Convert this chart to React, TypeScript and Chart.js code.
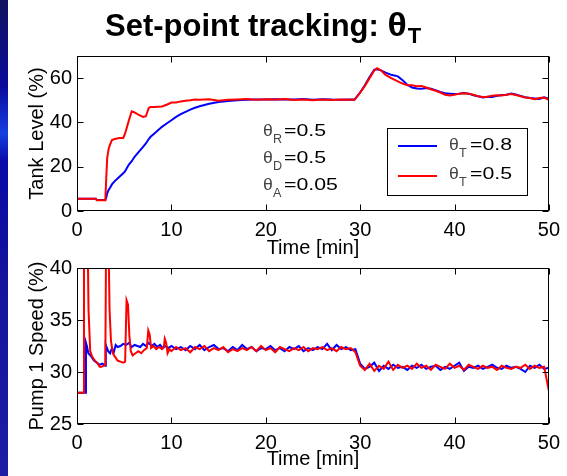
import React, { useEffect, useRef } from "react";
import { Chart, registerables } from "chart.js";

Chart.register(...registerables);

const FONT = "'Liberation Sans', Arial, Helvetica, sans-serif";

// ---------- data ----------
const tankTime = [0, 1, 2, 2.1, 3.0, 3.1, 3.2, 3.35, 3.5, 3.7, 4.0, 4.5, 4.9, 5.1, 5.3, 5.5, 5.8, 6.1, 6.5, 7.0, 7.3, 7.6, 7.8, 8.2, 9.0, 9.5, 10, 10.5, 11, 11.5, 12, 12.5, 13, 14, 15, 16, 17, 18, 19, 20, 21, 22, 23, 24, 25, 26, 27, 28, 29, 29.4, 30, 30.5, 31, 31.5, 31.8, 32.2, 32.7, 33.3, 34, 34.5, 35, 35.5, 36, 36.5, 37, 37.5, 38, 38.5, 39, 39.5, 40, 40.5, 41, 41.5, 42, 42.5, 43, 43.5, 44, 44.5, 45, 45.5, 46, 46.5, 47, 47.5, 48, 48.5, 49, 49.5, 50];

const tankLevelThetaT08 = [5.5, 5.5, 5.5, 5, 5, 6, 8, 9.5, 10.5, 12, 13.5, 15.5, 17, 18, 19.5, 21, 22.5, 24.5, 26.5, 29, 30.5, 32.5, 33.5, 35, 38, 39.5, 41, 42.5, 43.7, 44.8, 45.8, 46.6, 47.3, 48.4, 49.2, 49.7, 50, 50.2, 50.4, 50.3, 50.5, 50.4, 50.3, 50.6, 50.2, 50.5, 50.3, 50.2, 50.4, 50.3, 53.5, 56.8, 60.5, 63.8, 64, 63.5, 62.5, 61.5, 60.8, 59, 57, 55.8, 55.3, 55.2, 55.5, 55.2, 54.5, 53.8, 53.2, 53, 52.8, 53, 53.3, 53, 52.3, 51.8, 51.3, 51.6, 51.5, 52, 52.4, 52.5, 53, 52.6, 52, 51.4, 51, 50.8, 50.6, 51.3, 50.7];

const tankLevelThetaT05 = [5.5, 5.5, 5.5, 4.8, 4.8, 15, 24, 28, 30, 32, 32.5, 33, 33, 35, 38, 41, 45, 44.5, 43.5, 42.5, 42.8, 46.5, 47, 47, 47.2, 48, 49, 49, 49.5, 49.8, 50, 50.3, 50.2, 50.5, 49.8, 50.2, 50.4, 50.6, 50.2, 50.5, 50.3, 50.6, 50.1, 50.4, 50.0, 50.3, 50.1, 50.4, 50.2, 50.2, 53.5, 56.5, 60, 63.5, 64.5, 63.5, 61.5, 60, 58.5, 57.5, 56.8, 56.8, 56.3, 56.5, 55.8, 55, 54.3, 53.5, 52.5, 52.2, 52.5, 53, 53.2, 53, 52.5, 51.8, 51.5, 51.6, 52, 52.3, 52.2, 52.5, 52.8, 52.4, 51.8, 51.3, 51, 50.5, 51, 51.2, 50.2];

const pumpEarlyTimeT08 = [0, 0.9, 0.95, 1.05, 1.2, 1.5, 1.8, 2.1, 2.4, 2.7, 3.0, 3.05, 3.3, 3.5, 3.7, 3.9, 4.1, 4.3, 4.6, 4.9, 5.2, 5.5, 5.8, 6.1, 6.4, 6.7, 7.0, 7.3, 7.6, 7.9, 8.2, 8.5, 8.8, 9.1, 9.4, 9.7];
const pumpEarlySpeedT08 = [28, 28, 32.8, 32.5, 31.8, 31.5, 31.1, 30.9, 30.7, 30.8, 30.6, 32.6, 32.0, 31.8, 32.3, 31.9, 32.6, 32.4, 32.5, 32.7, 32.6, 32.8, 32.4, 32.6, 32.5, 32.4, 32.7, 32.5, 32.8, 32.5, 32.7, 32.4, 32.6, 32.3, 32.5, 32.3];

const pumpEarlyTimeT05 = [0, 0.68, 0.74, 1.1, 1.22, 1.4, 1.6, 1.8, 2.0, 2.2, 2.4, 2.6, 2.8, 3.0, 3.1, 3.3, 3.45, 3.6, 3.8, 4.0, 4.3, 4.6, 4.9, 5.1, 5.25, 5.4, 5.55, 5.7, 5.9, 6.2, 6.5, 6.8, 7.1, 7.4, 7.55, 7.7, 7.85, 8.1, 8.4, 8.7, 9.0, 9.2, 9.3, 9.45, 9.6, 9.8];
const pumpEarlySpeedT05 = [28, 28, 45, 45, 36, 32, 31.5, 31.2, 31, 30.8, 30.5, 30.5, 30.6, 30.7, 45, 45, 36, 33, 31.8, 31.5, 31.1, 31.0, 30.9, 31, 36.9, 36.5, 33.5, 32, 31.6, 31.8, 32.0, 31.8, 32.1, 32.3, 34, 33.6, 32.3, 32.5, 32.2, 32.4, 32.2, 32.4, 33.2, 32.8, 31.8, 32.2];

const pumpTailTime = [10, 10.5, 11, 11.5, 12, 12.5, 13, 13.5, 14, 14.5, 15, 15.5, 16, 16.5, 17, 17.5, 18, 18.5, 19, 19.5, 20, 20.5, 21, 21.5, 22, 22.5, 23, 23.5, 24, 24.5, 25, 25.5, 26, 26.5, 27, 27.5, 28, 28.5, 29, 29.5, 30, 30.5, 31, 31.5, 32, 32.5, 33, 33.5, 34, 34.5, 35, 35.5, 36, 36.5, 37, 37.5, 38, 38.5, 39, 39.5, 40, 40.5, 41, 41.5, 42, 42.5, 43, 43.5, 44, 44.5, 45, 45.5, 46, 46.5, 47, 47.5, 48, 48.5, 49, 49.5, 50];

const pumpTailSpeedT08 = [32.5, 32.2, 32.4, 32.1, 32.5, 32.2, 32.6, 32.1, 32.4, 32.6, 32.2, 32.3, 32.0, 32.4, 32.1, 32.6, 32.2, 32.4, 32.0, 32.3, 32.2, 32.5, 32.1, 32.3, 32.0, 32.4, 32.2, 32.5, 32.0, 32.3, 32.1, 32.4, 32.2, 32.7, 32.1, 32.6, 32.2, 32.4, 32.1, 32.2, 30.8, 30.3, 30.5, 30.9, 30.1, 30.6, 30.3, 30.7, 30.4, 30.5, 30.2, 30.6, 30.4, 30.7, 30.3, 30.5, 30.6, 30.2, 30.5, 30.3, 30.6, 30.9, 30.1, 30.5, 30.4, 30.6, 30.3, 30.5, 30.7, 30.4, 30.3, 30.6, 30.4, 30.5, 30.3, 30.0, 30.6, 30.4, 30.7, 30.3, 30.4];

const pumpTailSpeedT05 = [32.0, 32.4, 32.1, 32.3, 31.9, 32.4, 32.2, 32.5, 32.0, 32.3, 32.1, 32.4, 31.9, 32.2, 32.0, 32.3, 32.1, 32.4, 32.0, 32.5, 32.1, 32.3, 31.9, 32.4, 32.2, 32.0, 32.3, 32.1, 32.4, 32.0, 32.3, 32.2, 32.4, 32.1, 32.3, 32.0, 32.4, 32.2, 32.3, 31.9, 30.6, 30.2, 30.8, 30.1, 30.6, 30.3, 31.0, 30.2, 30.7, 30.4, 30.6, 30.3, 30.8, 30.4, 30.6, 30.2, 30.7, 30.5, 30.3, 30.8, 30.4, 30.6, 30.2, 30.7, 30.5, 30.3, 30.6, 30.4, 30.5, 30.2, 30.6, 30.4, 30.3, 30.5, 30.4, 30.7, 30.3, 30.6, 30.4, 30.5, 28.2];

const timeTicks = [0, 10, 20, 30, 40, 50];
const tankTicks = [0, 20, 40, 60];
const pumpTicks = [25, 30, 35, 40];

const seriesLabels = ["0.8", "0.5"];
const seriesColors = ["#0000ff", "#ff0000"];
const paramSubs = ["R", "D", "A"];
const paramValues = ["0.5", "0.5", "0.05"];

// ---------- helpers ----------
const pairs = (t: number[], v: number[]) => t.map((x, i) => ({ x, y: v[i] }));

function stretchText(ctx: CanvasRenderingContext2D, text: string, x: number, y: number, font: string, color: string, sx = 1) {
  ctx.save();
  ctx.font = font;
  ctx.fillStyle = color;
  ctx.textAlign = "left";
  ctx.textBaseline = "alphabetic";
  ctx.translate(x, y);
  ctx.scale(sx, 1);
  ctx.fillText(text, 0, 0);
  const w = ctx.measureText(text).width * sx;
  ctx.restore();
  return w;
}

function thetaLabel(ctx: CanvasRenderingContext2D, x: number, y: number, sub: string, rest: string) {
  stretchText(ctx, "θ", x, y, `16px ${FONT}`, "#444", 1.1);
  stretchText(ctx, sub, x + 10, y + 7, `12px ${FONT}`, "#444", 1.05);
  stretchText(ctx, rest, x + 21, y, `16px ${FONT}`, "#000", 1.33);
}

const inwardBox = {
  id: "inwardBox",
  afterDatasetsDraw(chart: any) {
    const { ctx, chartArea: a } = chart;
    const xs = chart.scales.x;
    const ys = chart.scales.y;
    const len = 6;
    ctx.save();
    ctx.strokeStyle = "#000";
    ctx.lineWidth = 1;
    const L = Math.round(a.left) + 0.5;
    const R = Math.round(a.right) - 0.5;
    const T = Math.round(a.top) + 0.5;
    const B = Math.round(a.bottom) - 0.5;
    ctx.strokeRect(L, T, R - L, B - T);
    ctx.beginPath();
    xs.ticks.forEach((t: any) => {
      const p = Math.round(xs.getPixelForValue(t.value)) + 0.5;
      ctx.moveTo(p, B); ctx.lineTo(p, B - len);
      ctx.moveTo(p, T); ctx.lineTo(p, T + len);
    });
    ys.ticks.forEach((t: any) => {
      const p = Math.round(ys.getPixelForValue(t.value)) + 0.5;
      ctx.moveTo(L, p); ctx.lineTo(L + len, p);
      ctx.moveTo(R, p); ctx.lineTo(R - len, p);
    });
    ctx.stroke();
    ctx.restore();
  },
};

const topDecor = {
  id: "topDecor",
  afterDraw(chart: any) {
    const ctx: CanvasRenderingContext2D = chart.ctx;
    // title
    const w1 = stretchText(ctx, "Set-point tracking: ", 105, 36, `bold 31px ${FONT}`, "#000");
    const w2 = stretchText(ctx, "θ", 105 + w1, 36, `bold 33px ${FONT}`, "#000", 1.08);
    stretchText(ctx, "T", 105 + w1 + w2 + 1, 43, `bold 22px ${FONT}`, "#000");
    // parameters
    paramSubs.forEach((s, i) => thetaLabel(ctx, 263, 136 + i * 27, s, "=" + paramValues[i]));
    // legend
    ctx.save();
    ctx.fillStyle = "#fff";
    ctx.strokeStyle = "#000";
    ctx.lineWidth = 1;
    ctx.fillRect(387.5, 128.5, 140, 67);
    ctx.strokeRect(387.5, 128.5, 140, 67);
    seriesLabels.forEach((lab, i) => {
      const y = 146 + i * 30;
      ctx.strokeStyle = seriesColors[i];
      ctx.lineWidth = 2;
      ctx.beginPath();
      ctx.moveTo(398, y);
      ctx.lineTo(437, y);
      ctx.stroke();
      thetaLabel(ctx, 449, 150 + i * 29, "T", "=" + lab);
    });
    ctx.restore();
  },
};

function makeOptions(yMin: number, yMax: number, yTicks: number[], yTitle: string, padTop: number, xHeight: number, xTitlePadBottom: number) {
  const tickFont = { family: FONT, size: 20 };
  return {
    responsive: false,
    animation: false as const,
    devicePixelRatio: 1,
    layout: { padding: { top: padTop, right: 12, left: 0, bottom: 0 } },
    plugins: { legend: { display: false }, tooltip: { enabled: false }, title: { display: false } },
    elements: { point: { radius: 0 }, line: { tension: 0 } },
    scales: {
      x: {
        type: "linear" as const,
        min: 0,
        max: 50,
        grid: { display: false, drawTicks: false },
        border: { display: false },
        ticks: { font: tickFont, color: "#000", padding: 7, maxRotation: 0, includeBounds: false },
        afterBuildTicks: (s: any) => { s.ticks = timeTicks.map((v) => ({ value: v })); },
        afterFit: (s: any) => { s.height = xHeight; },
        title: { display: true, text: "Time [min]", font: { family: FONT, size: 20, lineHeight: 1.2 }, color: "#000", padding: { top: 0, bottom: xTitlePadBottom } },
      },
      y: {
        type: "linear" as const,
        min: yMin,
        max: yMax,
        grid: { display: false, drawTicks: false },
        border: { display: false },
        ticks: { font: tickFont, color: "#000", padding: 5, includeBounds: false },
        afterBuildTicks: (s: any) => { s.ticks = yTicks.map((v) => ({ value: v })); },
        afterFit: (s: any) => { s.width = 77; },
        title: { display: true, text: yTitle, font: { family: FONT, size: 20, lineHeight: 1.2 }, color: "#000", padding: { top: 25, bottom: 0 } },
      },
    },
  };
}

export default function App() {
  const topRef = useRef<HTMLCanvasElement>(null);
  const botRef = useRef<HTMLCanvasElement>(null);

  useEffect(() => {
    const top = new Chart(topRef.current!, {
      type: "line",
      data: {
        datasets: [
          { label: "θT=0.8", order: 2, data: pairs(tankTime, tankLevelThetaT08), borderColor: seriesColors[0], borderWidth: 2, pointRadius: 0, fill: false },
          { label: "θT=0.5", order: 1, data: pairs(tankTime, tankLevelThetaT05), borderColor: seriesColors[1], borderWidth: 2, pointRadius: 0, fill: false },
        ],
      },
      options: makeOptions(0, 70, tankTicks, "Tank Level (%)", 56, 49, 0) as any,
      plugins: [inwardBox, topDecor],
    });
    const bot = new Chart(botRef.current!, {
      type: "line",
      data: {
        datasets: [
          { label: "θT=0.8", order: 2, data: pairs(pumpEarlyTimeT08.concat(pumpTailTime), pumpEarlySpeedT08.concat(pumpTailSpeedT08)), borderColor: seriesColors[0], borderWidth: 2, pointRadius: 0, fill: false },
          { label: "θT=0.5", order: 1, data: pairs(pumpEarlyTimeT05.concat(pumpTailTime), pumpEarlySpeedT05.concat(pumpTailSpeedT05)), borderColor: seriesColors[1], borderWidth: 2, pointRadius: 0, fill: false },
        ],
      },
      options: makeOptions(25, 40, pumpTicks, "Pump 1 Speed (%)", 18, 52, 5) as any,
      plugins: [inwardBox],
    });
    return () => { top.destroy(); bot.destroy(); };
  }, []);

  return (
    <>
      <div style={{ position: "absolute", left: 0, top: 0, width: 8, height: 476, background: "linear-gradient(#12125e 0%, #0a0a9a 18%, #1440e0 28%, #0a0aa8 34%, #14149c 60%, #1c1ca4 100%)" }} />
      <canvas ref={topRef} width={567} height={260} style={{ position: "absolute", left: 0, top: 0, width: 567, height: 260 }} />
      <canvas ref={botRef} width={567} height={226} style={{ position: "absolute", left: 0, top: 250, width: 567, height: 226 }} />
    </>
  );
}
